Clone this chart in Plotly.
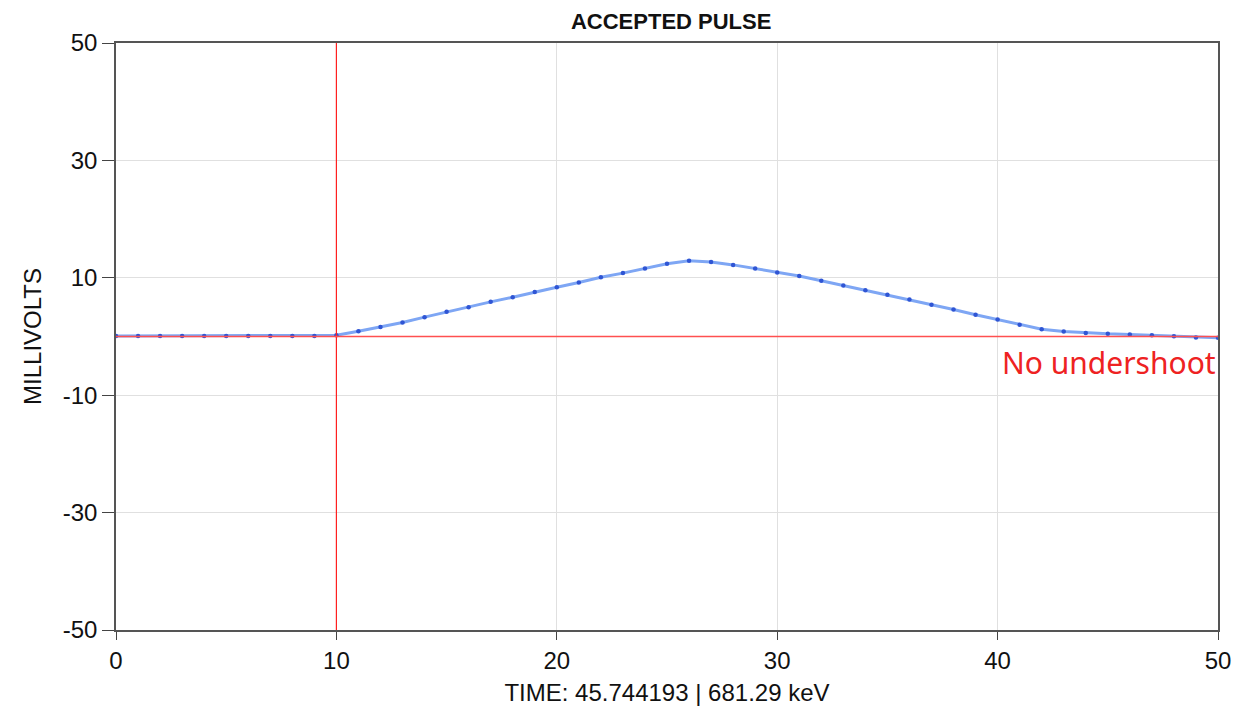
import plotly.graph_objects as go

time = list(range(0, 51))
millivolts = [0.1] * 10 + [
    0.2, 0.9, 1.6, 2.4, 3.3, 4.2, 5.0, 5.9, 6.7, 7.6,
    8.4, 9.2, 10.1, 10.8, 11.6, 12.4, 12.9, 12.7, 12.2, 11.6,
    10.9, 10.3, 9.5, 8.7, 7.9, 7.1, 6.3, 5.4, 4.6, 3.7,
    2.9, 2.0, 1.25, 0.85, 0.6, 0.45, 0.35, 0.2, 0.05, -0.15, -0.2,
]
x_ticks = [0, 10, 20, 30, 40, 50]
y_ticks = [-50, -30, -10, 10, 30, 50]
y_tick_labels = ["-50", "-30", "-10", "10", "30", "50"]
trigger_time = 10
baseline = 0
title_text = "ACCEPTED PULSE"
x_title = "TIME: 45.744193 | 681.29 keV"
y_title = "MILLIVOLTS"
note_text = "No undershoot"

fig = go.Figure()
fig.add_trace(go.Scatter(
    x=time, y=millivolts, mode="lines+markers",
    line=dict(color="#7ea6f4", width=3),
    marker=dict(color="#2f55d4", size=4.5),
    showlegend=False, hoverinfo="x+y",
))

fig.add_shape(type="line", xref="x", yref="paper", x0=trigger_time, x1=trigger_time,
              y0=0, y1=1, line=dict(color="#ff2020", width=1.2), layer="above")
fig.add_shape(type="line", xref="paper", yref="y", x0=0, x1=1, y0=baseline, y1=baseline,
              line=dict(color="#ff5050", width=1.5), layer="above")

fig.add_annotation(x=50, y=-4.4, xref="x", yref="y", text=note_text, showarrow=False,
                   xanchor="right", yanchor="middle",
                   font=dict(family="Noto Sans", size=30, color="#ee2222"))

axis_font = dict(family="Liberation Sans, Arial", size=24, color="#111111")
title_font = dict(family="Liberation Sans, Arial", size=24, color="#111111")
fig.update_layout(
    width=1235, height=706,
    margin=dict(l=108, r=16, t=35, b=79),
    paper_bgcolor="white", plot_bgcolor="white",
    title=dict(text="<b>" + title_text + "</b>", x=0.537, xanchor="center", y=0.981, yanchor="middle",
               font=dict(family="Liberation Sans, Arial", size=22, color="#111111")),
    xaxis=dict(range=[0, 50], tickvals=x_ticks, ticks="outside", ticklen=8, tickcolor="#444444",
               showline=True, linecolor="#555555", linewidth=1.5, mirror=True,
               showgrid=True, gridcolor="#e0e0e0", gridwidth=1, zeroline=False,
               tickfont=axis_font,
               title=dict(text=x_title, font=title_font, standoff=12)),
    yaxis=dict(range=[-50, 50], tickvals=y_ticks, ticktext=y_tick_labels, ticks="outside", ticklen=12,
               tickcolor="#444444",
               showline=True, linecolor="#555555", linewidth=1.5, mirror=True,
               showgrid=True, gridcolor="#e0e0e0", gridwidth=1, zeroline=False,
               tickfont=axis_font,
               title=dict(text=y_title, font=title_font, standoff=14)),
)

fig.write_html("out.html")
